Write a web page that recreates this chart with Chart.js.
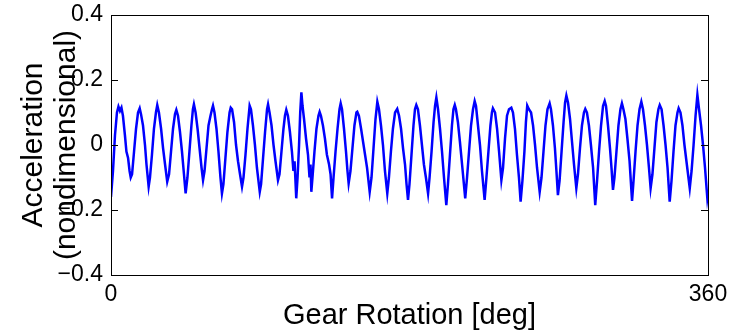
<!DOCTYPE html>
<html>
<head>
<meta charset="utf-8">
<script src="https://cdn.jsdelivr.net/npm/chart.js@4/dist/chart.umd.min.js"></script>
<style>
  html, body { margin: 0; padding: 0; background: #fff; }
  #wrap { width: 730px; height: 333px; }
</style>
</head>
<body>
<div id="wrap"><canvas id="accChart" width="730" height="333"></canvas></div>
<script>
// gear rotation angle [deg] (peaks, troughs and a few points between)
const angles = [
  0.0, 1.2, 2.4, 3.6, 4.5, 5.4, 6.3, 7.2, 8.4, 9.3, 10.3, 11.2, 11.9,
  12.7, 13.9, 15.1, 16.3, 17.3, 18.1, 19.3, 20.5, 21.4, 22.7,
  23.5, 24.7, 25.9, 27.1, 27.9, 28.9, 30.2, 31.4, 32.6, 33.9,
  35.0, 36.2, 37.4, 38.6, 39.4, 40.4, 41.6, 42.8, 44.0, 45.0,
  46.1, 47.3, 48.5, 49.4, 50.0, 51.0, 52.2, 53.4, 54.6, 55.5,
  56.4, 57.6, 58.8, 60.0, 60.9, 61.5, 62.4, 63.6, 64.8, 66.0, 66.9,
  67.8, 69.0, 70.2, 71.5, 72.2, 73.0, 74.2, 75.4, 76.6, 77.8, 79.0,
  79.9, 81.1, 82.3, 83.6, 84.4, 85.6, 86.8, 88.0, 89.7,
  90.5, 91.7, 92.9, 94.1, 94.7, 95.6, 96.8, 98.0, 99.2, 100.7,
  101.6, 102.8, 104.0, 104.9, 105.7, 106.7, 107.9, 109.1, 110.0, 110.7, 111.7,
  112.5, 113.4, 114.1, 114.8, 115.5, 116.4, 117.6, 118.8, 119.7, 120.3, 120.8,
  121.5, 122.7, 123.9, 125.1, 125.8, 126.6, 127.8, 129.0, 130.2, 131.5, 132.4, 133.3,
  134.2, 135.4, 136.6, 137.8, 138.5, 139.3, 140.5, 141.7, 142.6, 143.3,
  144.4, 145.6, 146.8, 148.0, 148.5, 149.5, 150.8, 152.0, 153.2, 154.4, 156.0,
  157.1, 158.3, 159.5, 160.6, 161.6, 162.8, 164.0, 165.2, 166.6,
  167.6, 168.8, 170.0, 171.3, 172.6, 173.7, 174.9, 176.1, 177.3, 178.2, 179.1,
  180.0, 181.2, 182.4, 183.3, 184.1, 185.1, 186.3, 187.5, 188.7, 189.9, 191.2,
  192.1, 193.3, 194.5, 195.4, 196.2, 197.2, 198.4, 199.6, 200.8, 202.2,
  203.2, 204.4, 205.6, 206.5, 207.3, 208.0, 209.2, 210.4, 211.7, 213.6,
  214.7, 215.9, 217.1, 218.3, 219.3, 220.1, 221.3, 222.5, 223.7, 225.3,
  226.4, 227.6, 228.8, 229.7, 230.3, 231.6, 232.8, 234.0, 235.4,
  236.4, 237.6, 238.8, 240.0, 241.4, 242.4, 243.6, 244.8, 246.0, 247.0,
  248.1, 249.3, 250.2, 251.0, 252.0, 253.3, 254.5, 255.7, 256.9, 258.5,
  259.6, 260.8, 262.0, 263.2, 264.5, 265.3, 266.5, 267.7, 268.6, 269.5,
  270.5, 271.7, 272.9, 273.8, 274.6, 275.6, 276.8, 278.0, 279.2, 280.6,
  281.6, 282.8, 284.0, 285.2, 286.0, 287.0, 288.2, 289.4, 290.7, 292.0,
  293.1, 294.3, 295.5, 296.7, 297.7, 298.5, 299.7, 300.9, 301.8, 302.7,
  303.6, 304.8, 306.0, 307.2, 308.1, 309.0, 310.2, 311.4, 312.7, 314.2,
  315.1, 316.3, 317.5, 318.7, 319.8, 320.8, 322.0, 323.2, 324.4, 325.4,
  326.5, 327.7, 328.9, 330.1, 330.9, 332.0, 333.2, 334.4, 335.6, 336.9,
  338.0, 339.2, 340.4, 341.6, 342.3, 343.4, 344.6, 345.8, 347.0, 349.0,
  350.1, 351.3, 352.5, 353.6, 354.6, 355.8, 357.0, 358.2, 359.6, 360.0
];

// nondimensional acceleration at those angles
const accel = [
  -0.16, -0.08, 0.03, 0.10, 0.118, 0.105, 0.115, 0.09, 0.03, -0.02, -0.04, -0.08, -0.10,
  -0.09, -0.02, 0.05, 0.10, 0.113, 0.095, 0.06, 0.0, -0.06, -0.128,
  -0.10, -0.03, 0.05, 0.10, 0.123, 0.10, 0.05, -0.01, -0.06, -0.113,
  -0.09, -0.02, 0.05, 0.095, 0.108, 0.09, 0.04, -0.02, -0.09, -0.149,
  -0.10, -0.02, 0.06, 0.11, 0.125, 0.10, 0.05, -0.01, -0.07, -0.108,
  -0.08, -0.01, 0.06, 0.09, 0.11, 0.121, 0.10, 0.05, -0.02, -0.10, -0.149,
  -0.12, -0.04, 0.04, 0.10, 0.115, 0.11, 0.07, 0.0, -0.05, -0.09, -0.128,
  -0.10, -0.03, 0.05, 0.121, 0.11, 0.06, 0.0, -0.07, -0.144,
  -0.12, -0.04, 0.04, 0.11, 0.125, 0.10, 0.06, 0.0, -0.05, -0.108,
  -0.09, -0.02, 0.05, 0.09, 0.108, 0.09, 0.04, -0.02, -0.08, -0.05, -0.164,
  -0.10, 0.0, 0.10, 0.162, 0.12, 0.08, 0.02, -0.03, -0.10, -0.06, -0.144,
  -0.10, -0.02, 0.05, 0.09, 0.102, 0.09, 0.06, 0.02, -0.03, -0.06, -0.09, -0.164,
  -0.10, -0.02, 0.05, 0.11, 0.128, 0.11, 0.05, -0.02, -0.08, -0.118,
  -0.08, -0.01, 0.06, 0.10, 0.102, 0.09, 0.05, 0.01, -0.03, -0.07, -0.144,
  -0.10, -0.01, 0.08, 0.133, 0.11, 0.06, 0.0, -0.08, -0.149,
  -0.10, -0.02, 0.05, 0.10, 0.111, 0.09, 0.05, -0.01, -0.06, -0.12, -0.169,
  -0.12, -0.03, 0.06, 0.11, 0.123, 0.11, 0.06, 0.0, -0.06, -0.10, -0.149,
  -0.10, -0.02, 0.07, 0.12, 0.146, 0.11, 0.05, -0.02, -0.10, -0.185,
  -0.12, -0.03, 0.06, 0.11, 0.123, 0.11, 0.07, 0.01, -0.06, -0.164,
  -0.10, -0.02, 0.06, 0.11, 0.135, 0.12, 0.06, 0.0, -0.08, -0.169,
  -0.10, -0.02, 0.06, 0.10, 0.113, 0.10, 0.05, -0.02, -0.108,
  -0.07, 0.02, 0.09, 0.11, 0.115, 0.10, 0.05, -0.03, -0.10, -0.174,
  -0.11, -0.02, 0.07, 0.121, 0.11, 0.10, 0.06, 0.0, -0.07, -0.144,
  -0.10, -0.02, 0.06, 0.11, 0.128, 0.11, 0.06, -0.01, -0.08, -0.154,
  -0.11, -0.02, 0.07, 0.13, 0.152, 0.13, 0.08, 0.01, -0.06, -0.133,
  -0.09, -0.01, 0.06, 0.10, 0.111, 0.10, 0.06, 0.0, -0.07, -0.185,
  -0.11, -0.02, 0.06, 0.12, 0.135, 0.12, 0.06, -0.01, -0.07, -0.138,
  -0.10, -0.02, 0.06, 0.11, 0.128, 0.11, 0.08, 0.02, -0.05, -0.172,
  -0.11, -0.02, 0.06, 0.11, 0.133, 0.11, 0.06, 0.0, -0.07, -0.133,
  -0.09, -0.01, 0.07, 0.11, 0.123, 0.11, 0.06, 0.0, -0.07, -0.174,
  -0.11, -0.02, 0.06, 0.10, 0.113, 0.10, 0.06, 0.0, -0.05, -0.133,
  -0.08, 0.0, 0.09, 0.154, 0.11, 0.06, 0.0, -0.07, -0.164, -0.15
];

const xTicks = [0, 360];
const yTicks = [-0.4, -0.2, 0, 0.2, 0.4];

const fontFam = '"Liberation Sans", Arial, Helvetica, sans-serif';

function fmtY(v) {
  if (Math.abs(v) < 1e-9) return '0';
  const s = Math.abs(v).toFixed(1);
  return v < 0 ? '\u2212' + s : s;
}

// MATLAB style box with ticks pointing into the plot
const boxTicks = {
  id: 'boxTicks',
  afterDraw(chart) {
    const { ctx, chartArea: a, scales } = chart;
    const len = 7;
    ctx.save();
    ctx.strokeStyle = '#000';
    ctx.lineWidth = 1;
    ctx.beginPath();
    yTicks.forEach(v => {
      const y = Math.round(scales.y.getPixelForValue(v)) + 0.5;
      ctx.moveTo(a.left, y); ctx.lineTo(a.left + len, y);
      ctx.moveTo(a.right, y); ctx.lineTo(a.right - len, y);
    });
    xTicks.forEach(v => {
      const x = Math.round(scales.x.getPixelForValue(v)) + 0.5;
      ctx.moveTo(x, a.bottom); ctx.lineTo(x, a.bottom - len);
      ctx.moveTo(x, a.top); ctx.lineTo(x, a.top + len);
    });
    ctx.stroke();
    ctx.strokeRect(Math.round(a.left) + 0.5, Math.round(a.top) + 0.5,
      Math.round(a.right - a.left), Math.round(a.bottom - a.top));
    ctx.restore();
  }
};

const ctx = document.getElementById('accChart').getContext('2d');
const chart = new Chart(ctx, {
  type: 'line',
  data: {
    datasets: [{
      data: angles.map((a, i) => ({ x: a, y: accel[i] })),
      borderColor: '#0000ff',
      borderWidth: 2.5,
      pointRadius: 0,
      tension: 0,
      fill: false
    }]
  },
  options: {
    responsive: false,
    animation: false,
    layout: { padding: { top: 15, right: 22, bottom: 0, left: 0 } },
    plugins: {
      legend: { display: false },
      tooltip: { enabled: false }
    },
    scales: {
      x: {
        type: 'linear',
        min: 0,
        max: 360,
        afterBuildTicks: s => { s.ticks = xTicks.map(v => ({ value: v })); },
        afterFit: s => { s.height = 58; s.paddingLeft = 0; s.paddingRight = 0; },
        grid: { display: false, drawTicks: false },
        border: { display: false },
        ticks: {
          color: '#000',
          padding: 6,
          maxRotation: 0,
          autoSkip: false,
          font: { family: fontFam, size: 23 }
        },
        title: {
          display: true,
          text: 'Gear Rotation [deg]',
          color: '#000',
          padding: { top: 0, bottom: 1 },
          font: { family: fontFam, size: 29, lineHeight: 1.1 }
        }
      },
      y: {
        min: -0.4,
        max: 0.4,
        afterBuildTicks: s => { s.ticks = yTicks.map(v => ({ value: v })); },
        afterFit: s => { s.width = 111; s.paddingTop = 0; s.paddingBottom = 0; },
        grid: { display: false, drawTicks: false },
        border: { display: false },
        ticks: {
          color: '#000',
          padding: 8,
          autoSkip: false,
          callback: v => fmtY(v),
          font: { family: fontFam, size: 23 }
        },
        title: {
          display: true,
          text: ['Acceleration', '(nondimensional)'],
          color: '#000',
          padding: { top: 17, bottom: 0 },
          font: { family: fontFam, size: 30, lineHeight: 1.1 }
        }
      }
    }
  },
  plugins: [boxTicks]
});
</script>
</body>
</html>
